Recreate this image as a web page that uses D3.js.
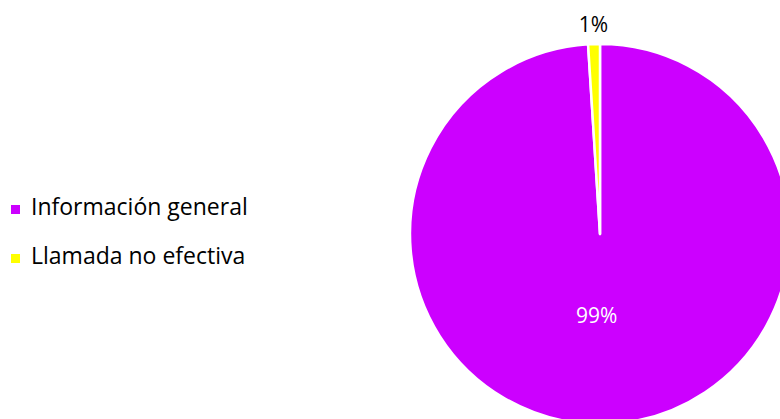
<!DOCTYPE html>
<html>
<head>
<meta charset="utf-8">
<script src="https://cdn.jsdelivr.net/npm/d3@7"></script>
<style>
  html, body { margin: 0; padding: 0; background: #fff; }
  svg { display: block; font-family: "Open Sans", Lato, sans-serif; }
</style>
</head>
<body>
<svg id="chart" width="780" height="419"></svg>
<script>
// Distribution of calls by type (percent)
const categories = ["Información general", "Llamada no efectiva"];
const values = [99, 1];
const colors = ["#CC00FF", "#FFFF00"];

const svg = d3.select("#chart");
const cx = 600, cy = 234, radius = 190;

const pie = d3.pie().sort(null).value(d => d)
  .startAngle(0).endAngle(2 * Math.PI);
const arcs = pie(values);
const arc = d3.arc().innerRadius(0).outerRadius(radius);

const g = svg.append("g").attr("transform", `translate(${cx},${cy})`);

g.selectAll("path.slice")
  .data(arcs)
  .join("path")
  .attr("class", "slice")
  .attr("d", arc)
  .attr("fill", (d, i) => colors[i])
  .attr("stroke", "#fff")
  .attr("stroke-width", 2.5)
  .attr("stroke-linejoin", "round");

const total = d3.sum(values);
const fmt = v => Math.round(v / total * 100) + "%";

// Large slice label inside, small slice label outside the pie
const innerArc = d3.arc().innerRadius(radius * 0.43).outerRadius(radius * 0.43);
const outerArc = d3.arc().innerRadius(radius * 1.1).outerRadius(radius * 1.1);

g.selectAll("text.lbl")
  .data(arcs)
  .join("text")
  .attr("class", "lbl")
  .attr("transform", d => {
    const p = (d.data >= 50 ? innerArc : outerArc).centroid(d);
    return `translate(${p[0] - (d.data >= 50 ? 6 : 0)},${p[1]})`;
  })
  .attr("text-anchor", "middle")
  .attr("dy", "0.35em")
  .attr("font-size", 21)
  .attr("fill", d => d.data >= 50 ? "#fff" : "#000")
  .text(d => fmt(d.data));

// Legend
const legend = svg.append("g").attr("transform", "translate(11,205)");
const item = legend.selectAll("g.item")
  .data(categories)
  .join("g")
  .attr("class", "item")
  .attr("transform", (d, i) => `translate(0,${i * 49})`);

item.append("rect")
  .attr("width", 9).attr("height", 9)
  .attr("fill", (d, i) => colors[i]);

item.append("text")
  .attr("x", 20).attr("y", 10)
  .attr("font-size", 23)
  .attr("fill", "#000")
  .text(d => d);
</script>
</body>
</html>
